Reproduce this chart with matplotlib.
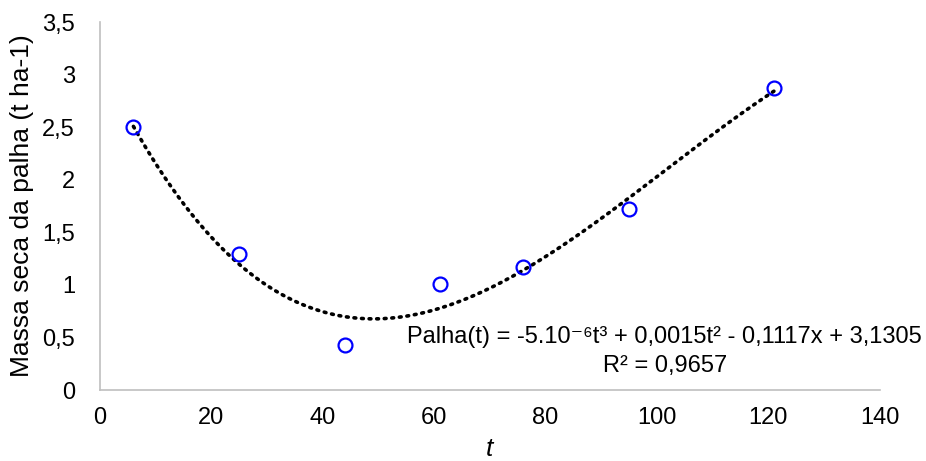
import numpy as np
import matplotlib
matplotlib.use("Agg")
import matplotlib.pyplot as plt

# dados
dias = [6, 25, 44, 61, 76, 95, 121]
palha = [2.50, 1.29, 0.43, 1.01, 1.17, 1.72, 2.87]
xticks = [0, 20, 40, 60, 80, 100, 120, 140]
yticks = [0, 0.5, 1, 1.5, 2, 2.5, 3, 3.5]
ytick_labels = ["0", "0,5", "1", "1,5", "2", "2,5", "3", "3,5"]

plt.rcParams['font.family'] = ['Liberation Sans', 'DejaVu Sans']

fig = plt.figure(figsize=(9.26, 4.61), dpi=100)
ax = fig.add_axes([0.108, 0.154, 0.842, 0.798])

# linha de tendencia polinomial de ordem 3
coef = np.polyfit(dias, palha, 3)
xs = np.linspace(min(dias), max(dias), 200)
ax.plot(xs, np.polyval(coef, xs), color='black', linestyle=(0, (0.5, 1.6)),
        linewidth=2.6, dash_capstyle='round', zorder=2)

ax.plot(dias, palha, linestyle='none', marker='o', markersize=10,
        markerfacecolor='none', markeredgecolor='#0000FF', markeredgewidth=1.6, zorder=3)

ax.set_xlim(0, 140)
ax.set_ylim(0, 3.5)
ax.set_xticks(xticks)
ax.set_yticks(yticks)
ax.set_yticklabels(ytick_labels)
ax.tick_params(length=0, labelsize=17)
ax.tick_params(axis='x', pad=12)
ax.tick_params(axis='y', pad=18)
for s in ['top', 'right']:
    ax.spines[s].set_visible(False)
for s in ['left', 'bottom']:
    ax.spines[s].set_color('#BFBFBF')
    ax.spines[s].set_linewidth(1.2)

ax.set_ylabel('Massa seca da palha (t ha-1)', fontsize=19, labelpad=6)
ax.set_xlabel('t', fontsize=19, style='italic', labelpad=6)

ax.text(101.4, 0.50, 'Palha(t) = -5.10⁻⁶t³ + 0,0015t² - 0,1117x + 3,1305',
        fontsize=17, ha='center', va='center')
ax.text(101.4, 0.23, 'R² = 0,9657', fontsize=17, ha='center', va='center')

fig.savefig('out.png', dpi=100)
